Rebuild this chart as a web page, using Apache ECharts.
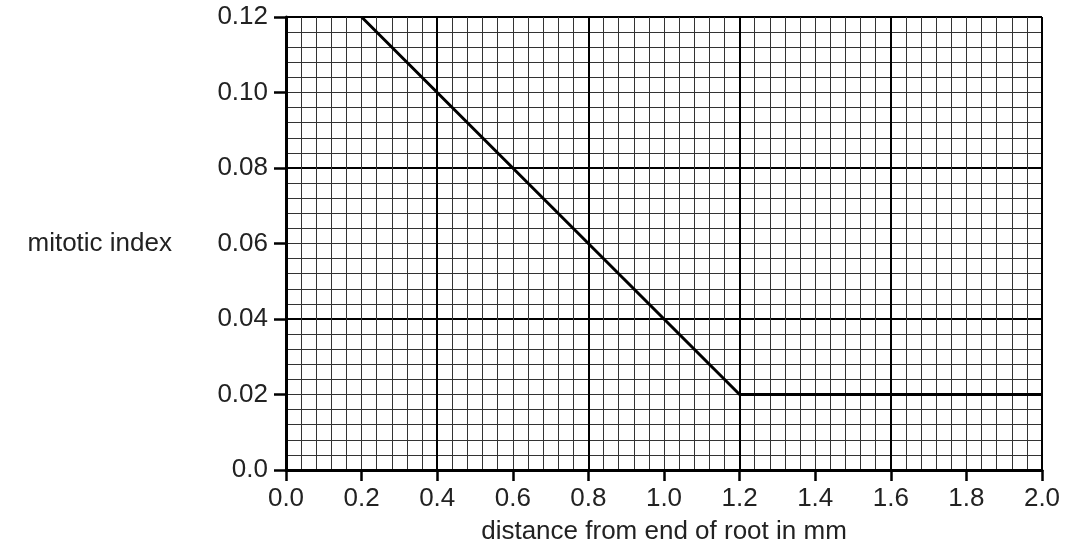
<!DOCTYPE html>
<html>
<head>
<meta charset="utf-8">
<script src="https://cdn.jsdelivr.net/npm/echarts@6/dist/echarts.min.js"></script>
<style>html,body{margin:0;padding:0;background:#fff}#c{width:1070px;height:550px}</style>
</head>
<body>
<div id="c"></div>
<script>
const xValues = [0.2, 1.2, 2.0];
const yValues = [0.12, 0.02, 0.02];
const xTicks = [0.0, 0.2, 0.4, 0.6, 0.8, 1.0, 1.2, 1.4, 1.6, 1.8, 2.0];
const yTicks = [0.0, 0.02, 0.04, 0.06, 0.08, 0.10, 0.12];
const xName = 'distance from end of root in mm';
const yName = 'mitotic index';

const font = 'Liberation Sans, Arial, Helvetica, sans-serif';
const fs = 26;
const chart = echarts.init(document.getElementById('c'), null, {renderer: 'canvas'});
const grid = {left: 286, right: 28, top: 17, bottom: 79};
const minorColor = '#333';
chart.setOption({
  animation: false,
  grid: grid,
  xAxis: [{
    type: 'value', min: 0, max: 2, interval: 0.2,
    name: xName, nameLocation: 'middle', nameGap: 49,
    nameTextStyle: {fontFamily: font, fontSize: fs, color: '#222'},
    axisLine: {show: true, onZero: false, lineStyle: {color: '#000', width: 3}},
    axisTick: {show: true, length: 11, lineStyle: {color: '#000', width: 2.5}},
    axisLabel: {margin: 16, fontFamily: font, fontSize: fs, color: '#222',
      formatter: v => v.toFixed(1)},
    splitLine: {show: true, lineStyle: {color: minorColor, width: 1}},
    minorTick: {show: false, splitNumber: 5},
    minorSplitLine: {show: true, lineStyle: {color: minorColor, width: 1}}
  }, {
    type: 'value', min: 0, max: 2, interval: 0.4, position: 'bottom',
    axisLine: {show: false}, axisTick: {show: false}, axisLabel: {show: false},
    splitLine: {show: true, lineStyle: {color: '#000', width: 2}}
  }],
  yAxis: [{
    type: 'value', min: 0, max: 0.12, interval: 0.02,
    name: yName, nameLocation: 'middle', nameGap: 114, nameRotate: 0,
    nameTextStyle: {fontFamily: font, fontSize: fs, color: '#222', align: 'right', verticalAlign: 'middle'},
    axisLine: {show: true, onZero: false, lineStyle: {color: '#000', width: 3}},
    axisTick: {show: true, length: 12, lineStyle: {color: '#000', width: 2.5}},
    axisLabel: {margin: 18, fontFamily: font, fontSize: fs, color: '#222',
      formatter: v => v === 0 ? '0.0' : v.toFixed(2)},
    splitLine: {show: true, lineStyle: {color: minorColor, width: 1}},
    minorTick: {show: false, splitNumber: 5},
    minorSplitLine: {show: true, lineStyle: {color: minorColor, width: 1}}
  }, {
    type: 'value', min: 0, max: 0.12, interval: 0.04, position: 'left',
    axisLine: {show: false}, axisTick: {show: false}, axisLabel: {show: false},
    splitLine: {show: true, lineStyle: {color: '#000', width: 2}}
  }],
  series: [{
    type: 'line',
    xAxisIndex: 0, yAxisIndex: 0,
    data: xValues.map((x, i) => [x, yValues[i]]),
    symbol: 'none',
    lineStyle: {color: '#000', width: 3},
    z: 5
  }]
});
</script>
</body>
</html>
